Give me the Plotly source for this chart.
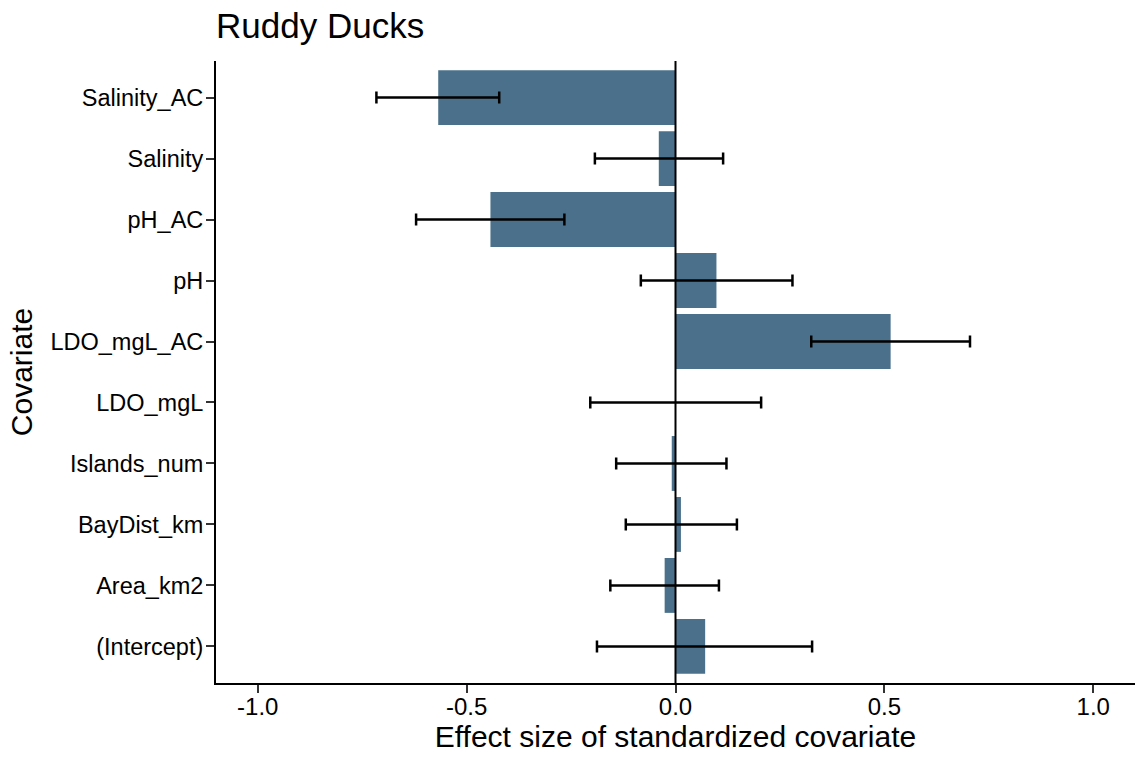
import plotly.graph_objects as go

covariates = ["(Intercept)", "Area_km2", "BayDist_km", "Islands_num", "LDO_mgL",
              "LDO_mgL_AC", "pH", "pH_AC", "Salinity", "Salinity_AC"]
estimates = [0.071, -0.026, 0.013, -0.009, 0.001, 0.515, 0.098, -0.443, -0.040, -0.568]
lower = [-0.188, -0.156, -0.119, -0.142, -0.204, 0.325, -0.083, -0.621, -0.193, -0.716]
upper = [0.327, 0.104, 0.147, 0.122, 0.205, 0.705, 0.280, -0.266, 0.114, -0.422]

x_ticks = [-1.0, -0.5, 0.0, 0.5, 1.0]
x_tick_labels = ["-1.0", "-0.5", "0.0", "0.5", "1.0"]

err_plus = [u - e for u, e in zip(upper, estimates)]
err_minus = [e - l for e, l in zip(estimates, lower)]

FONT = "Liberation Sans, Arial, sans-serif"

fig = go.Figure()
fig.add_trace(go.Bar(
    x=estimates, y=covariates, orientation="h",
    marker=dict(color="#4A708B", line=dict(width=0)),
    width=0.9,
    error_x=dict(type="data", symmetric=False, array=err_plus, arrayminus=err_minus,
                 color="black", thickness=2.5, width=6),
    showlegend=False,
))

fig.add_shape(type="line", x0=0, x1=0, y0=0, y1=1, xref="x", yref="paper",
              line=dict(color="black", width=2), layer="above")

fig.update_layout(
    width=1135, height=762,
    margin=dict(l=216, r=0, t=61, b=79, autoexpand=False),
    plot_bgcolor="white", paper_bgcolor="white",
    font=dict(family=FONT, color="black"),
    title=dict(text="Ruddy Ducks", font=dict(size=35, color="black", family=FONT),
               x=0, xref="paper", xanchor="left",
               y=1 - 13 / 762, yref="container", yanchor="top", pad=dict(l=0, t=0)),
    bargap=0.1,
)

fig.update_xaxes(
    range=[-1.1, 1.1], tickvals=x_ticks, ticktext=x_tick_labels,
    showline=True, linecolor="black", linewidth=2, mirror=False,
    ticks="outside", ticklen=8, tickwidth=2, tickcolor="#333333",
    tickfont=dict(size=24, color="black"), ticklabelstandoff=-7,
    showgrid=False, zeroline=False, automargin=False,
    title=dict(text="Effect size of standardized covariate", font=dict(size=30, color="black"),
               standoff=1),
)
fig.update_yaxes(
    categoryorder="array", categoryarray=covariates,
    range=[-0.6, 9.6],
    showline=True, linecolor="black", linewidth=2, mirror=False,
    ticks="outside", ticklen=8, tickwidth=2, tickcolor="#333333",
    tickfont=dict(size=23.5, color="black"), ticklabelstandoff=-2,
    showgrid=False, zeroline=False, automargin=False,
    title=dict(text="Covariate", font=dict(size=30, color="black"), standoff=9),
)

fig.write_html("out.html", config={"displayModeBar": False},
               post_script="document.body.style.margin='0px';document.body.style.padding='0px';")
